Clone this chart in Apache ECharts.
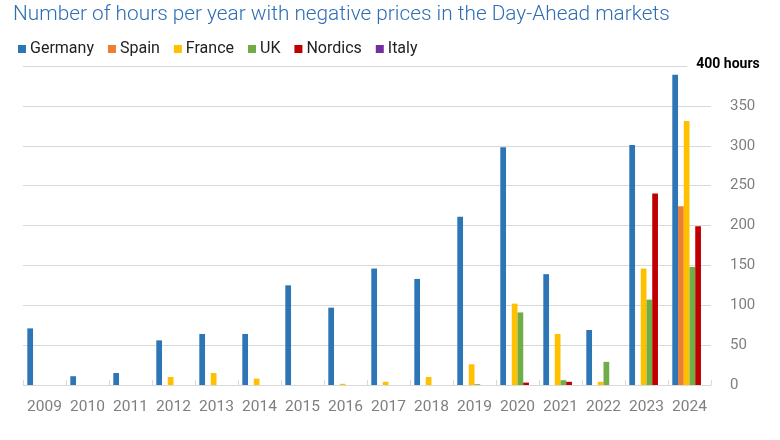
<!DOCTYPE html>
<html>
<head>
<meta charset="utf-8">
<script src="https://cdn.jsdelivr.net/npm/echarts@6/dist/echarts.min.js"></script>
<style>
  html, body { margin: 0; padding: 0; background: #fff; }
  #chart { width: 780px; height: 440px; }
</style>
</head>
<body>
<div id="chart"></div>
<script>
const years = ['2009','2010','2011','2012','2013','2014','2015','2016','2017','2018','2019','2020','2021','2022','2023','2024'];
const germany = [71, 11, 15, 56, 64, 64, 125, 97, 146, 133, 211, 298, 139, 69, 301, 389];
const spain   = [0, 0, 0, 0, 0, 0, 0, 0, 0, 0, 0, 0, 0, 0, 0, 224];
const france  = [0, 0, 0, 10, 15, 8, 0, 1.5, 4, 10, 26, 102, 64, 4, 146, 331];
const uk      = [0, 0, 0, 0, 0, 0, 0, 0, 0, 0, 1, 91, 6, 29, 107, 148];
const nordics = [0, 0, 0, 0, 0, 0, 0, 0, 0, 0, 0, 3, 4, 0, 240, 199];
const italy   = [0, 0, 0, 0, 0, 0, 0, 0, 0, 0, 0, 0, 0, 0, 0, 0];
const seriesNames = ['Germany', 'Spain', 'France', 'UK', 'Nordics', 'Italy'];

const colors = ['#2E75B6', '#ED7D31', '#FFC000', '#70AD47', '#C00000', '#7030A0'];
const values = [germany, spain, france, uk, nordics, italy];

const chart = echarts.init(document.getElementById('chart'), null, { renderer: 'canvas' });
chart.setOption({
  animation: false,
  color: colors,
  title: {
    text: 'Number of hours per year with negative prices in the Day-Ahead markets',
    left: 8, top: -1,
    textStyle: { color: '#2E6EB5', fontFamily: 'Roboto', fontWeight: 300, fontSize: 20.8 }
  },
  legend: {
    left: 13, top: 36,
    itemWidth: 8, itemHeight: 8, itemGap: 14,
    icon: 'rect',
    textStyle: { color: '#222', fontFamily: 'Roboto', fontSize: 16, padding: [0, 0, 0, -1] },
    data: seriesNames
  },
  grid: { left: 23, right: 69, top: 66, bottom: 55, containLabel: false },
  xAxis: {
    type: 'category',
    data: years,
    axisLine: { lineStyle: { color: '#d9d9d9', width: 1 } },
    axisTick: { show: true, inside: true, length: 5, lineStyle: { color: '#d9d9d9' } },
    axisLabel: { interval: 0, color: '#7f7f7f', fontFamily: 'Roboto', fontSize: 15.5, margin: 14 }
  },
  yAxis: {
    type: 'value',
    position: 'right',
    min: 0, max: 400, interval: 50,
    name: '{w| }{t|400 hours}',
    nameLocation: 'end',
    nameGap: 2,
    nameTextStyle: {
      align: 'center', verticalAlign: 'middle',
      rich: {
        w: { width: 25 },
        t: { fontFamily: 'Roboto', fontWeight: 'bold', fontSize: 14, color: '#000', backgroundColor: '#fff', padding: [2, 0, 2, 9] }
      }
    },
    axisLine: { show: false },
    axisTick: { show: false },
    splitLine: { lineStyle: { color: '#d9d9d9', width: 1 } },
    axisLabel: {
      color: '#7f7f7f', fontFamily: 'Roboto', fontSize: 15, margin: 19,
      formatter: function (v) { return v === 400 ? '' : String(v); }
    }
  },
  series: seriesNames.map(function (n, i) {
    return {
      name: n,
      type: 'bar',
      data: values[i],
      barGap: '0%',
      barCategoryGap: '20%',
      itemStyle: { color: colors[i] }
    };
  })
});
</script>
</body>
</html>
